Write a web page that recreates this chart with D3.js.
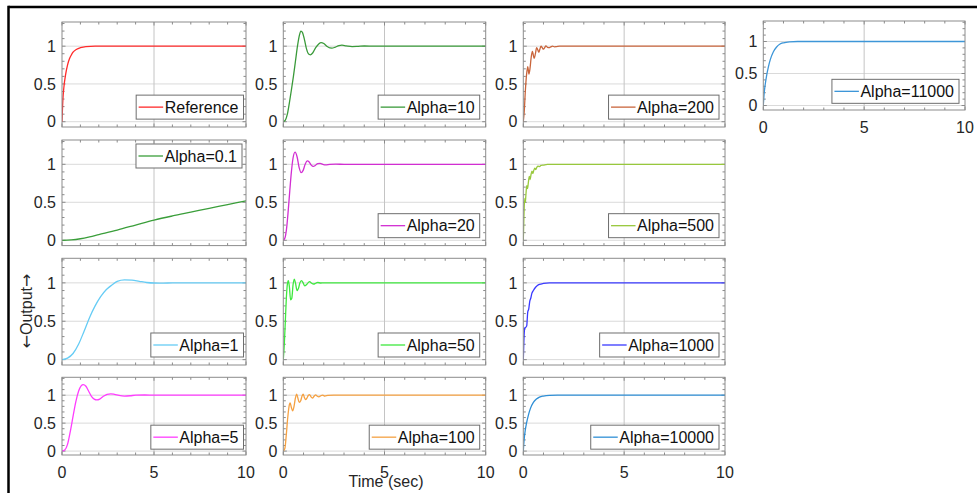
<!DOCTYPE html>
<html>
<head>
<meta charset="utf-8">
<script src="https://cdn.jsdelivr.net/npm/d3@7"></script>
<style>
  html, body { margin: 0; padding: 0; background: #fff; }
  svg { display: block; font-family: "Liberation Sans", Arial, Helvetica, sans-serif; }
</style>
</head>
<body>
<svg id="chart" width="977" height="493"></svg>
<script>
// Step responses [time (sec), output] for each gain setting
const reference = [[0,0],[0.05,0.3],[0.1,0.45],[0.2,0.63],[0.3,0.75],[0.4,0.83],[0.5,0.88],[0.6,0.92],[0.8,0.96],[1.0,0.98],[1.3,0.995],[1.8,1],[10,1]];
const alpha0_1 = [[0,0],[0.5,0.005],[1,0.02],[1.5,0.045],[2,0.075],[3,0.135],[4,0.2],[5,0.265],[6,0.32],[7,0.37],[8,0.42],[9,0.47],[10,0.52]];
const alpha1 = [[0,0],[0.3,0.02],[0.6,0.08],[0.9,0.2],[1.2,0.37],[1.5,0.55],[1.8,0.7],[2.1,0.82],[2.4,0.91],[2.7,0.97],[3.0,1.02],[3.4,1.04],[3.8,1.035],[4.2,1.02],[4.6,1.005],[5.0,0.998],[5.5,0.997],[6,1.0],[10,1]];
const alpha5 = [[0,0],[0.15,0.02],[0.3,0.12],[0.45,0.35],[0.6,0.62],[0.75,0.88],[0.9,1.07],[1.05,1.17],[1.15,1.19],[1.3,1.16],[1.45,1.07],[1.6,0.98],[1.75,0.93],[1.9,0.915],[2.05,0.93],[2.25,0.98],[2.45,1.015],[2.65,1.025],[2.85,1.015],[3.1,0.995],[3.4,0.985],[3.7,0.99],[4.0,1.0],[4.5,1.003],[5,1],[10,1]];
const alpha10 = [[0,0],[0.1,0.02],[0.2,0.1],[0.3,0.25],[0.4,0.42],[0.5,0.6],[0.6,0.8],[0.7,1.0],[0.8,1.15],[0.87,1.2],[0.95,1.18],[1.05,1.08],[1.15,0.96],[1.25,0.895],[1.33,0.886],[1.45,0.91],[1.6,0.98],[1.75,1.03],[1.87,1.047],[2.0,1.035],[2.15,1.0],[2.3,0.977],[2.4,0.975],[2.55,0.985],[2.75,1.008],[2.9,1.013],[3.1,1.005],[3.4,0.995],[3.7,0.998],[4.0,1.002],[4.5,1],[10,1]];
const alpha20 = [[0,0],[0.08,0.03],[0.16,0.15],[0.24,0.38],[0.32,0.65],[0.4,0.9],[0.48,1.08],[0.58,1.16],[0.68,1.1],[0.78,0.96],[0.88,0.89],[0.98,0.92],[1.08,1.0],[1.18,1.045],[1.28,1.03],[1.38,0.99],[1.48,0.972],[1.58,0.985],[1.7,1.01],[1.82,1.012],[1.95,1.0],[2.1,0.993],[2.3,1.0],[2.6,1.002],[3,1],[10,1]];
const alpha50 = [[0,0],[0.05,0.2],[0.1,0.5],[0.15,0.8],[0.2,0.98],[0.25,1.03],[0.3,0.95],[0.36,0.78],[0.42,0.8],[0.48,0.97],[0.54,1.05],[0.6,1.0],[0.68,0.9],[0.75,0.93],[0.82,1.0],[0.9,1.03],[0.98,1.0],[1.06,0.96],[1.14,0.975],[1.22,1.0],[1.3,1.015],[1.4,0.995],[1.5,0.985],[1.6,0.995],[1.7,1.005],[1.85,0.998],[2.0,1.0],[10,1]];
const alpha100 = [[0,0],[0.08,0.05],[0.15,0.3],[0.22,0.6],[0.3,0.83],[0.34,0.86],[0.4,0.78],[0.46,0.72],[0.53,0.8],[0.6,0.95],[0.66,1.02],[0.72,0.95],[0.79,0.87],[0.86,0.9],[0.93,0.99],[0.98,1.02],[1.04,0.96],[1.1,0.92],[1.17,0.95],[1.24,1.0],[1.3,1.01],[1.37,0.97],[1.44,0.95],[1.52,0.98],[1.6,1.005],[1.68,0.98],[1.76,0.97],[1.85,0.99],[1.95,1.0],[2.05,0.985],[2.2,0.995],[2.5,1],[10,1]];
const alpha200 = [[0,0],[0.05,0.15],[0.1,0.4],[0.16,0.62],[0.22,0.73],[0.28,0.63],[0.33,0.7],[0.39,0.85],[0.45,0.93],[0.54,0.84],[0.6,0.9],[0.66,0.98],[0.72,0.95],[0.77,0.92],[0.82,0.96],[0.88,1.0],[0.94,0.98],[1.0,0.96],[1.06,0.98],[1.12,1.005],[1.2,0.985],[1.28,0.98],[1.36,0.99],[1.45,1.0],[1.55,0.992],[1.65,0.995],[1.8,1],[10,1]];
const alpha500 = [[0,0],[0.03,0.3],[0.07,0.55],[0.1,0.5],[0.13,0.6],[0.17,0.72],[0.21,0.68],[0.25,0.76],[0.3,0.84],[0.34,0.8],[0.38,0.86],[0.43,0.91],[0.47,0.88],[0.52,0.92],[0.57,0.95],[0.62,0.93],[0.67,0.96],[0.73,0.975],[0.8,0.97],[0.88,0.985],[1.0,0.99],[1.2,0.998],[1.5,1],[10,1]];
const alpha1000 = [[0,0],[0.03,0.25],[0.07,0.41],[0.12,0.42],[0.17,0.44],[0.22,0.62],[0.27,0.66],[0.32,0.76],[0.37,0.8],[0.42,0.86],[0.5,0.9],[0.6,0.94],[0.7,0.965],[0.8,0.98],[1.0,0.993],[1.3,1.0],[10,1]];
const alpha10000 = [[0,0],[0.04,0.2],[0.1,0.38],[0.16,0.5],[0.25,0.64],[0.35,0.76],[0.5,0.87],[0.65,0.93],[0.8,0.965],[1.0,0.985],[1.3,0.997],[1.7,1],[10,1]];
const alpha11000 = [[0,0],[0.04,0.18],[0.1,0.34],[0.16,0.46],[0.25,0.6],[0.35,0.72],[0.5,0.84],[0.65,0.91],[0.83,0.96],[1.0,0.98],[1.3,0.995],[1.7,1],[10,1]];

// Axis ticks
const xTicks = [0, 5, 10];
const yTicks = [0, 0.5, 1];
const yTickLabels = ["0", "0.5", "1"];

// Subplot grid: column and row extents in px
const cols = [[62, 246], [283.3, 485.7], [523.3, 725], [763.3, 965]];
const rows = [[22, 127], [140, 245.6], [258.3, 365], [377.3, 455]];

const panels = [
  { name: "Reference",   data: reference,  color: "#ff2a2a", col: 0, row: 0 },
  { name: "Alpha=0.1",   data: alpha0_1,   color: "#3a9e3a", col: 0, row: 1, legendTop: true },
  { name: "Alpha=1",     data: alpha1,     color: "#66ccf5", col: 0, row: 2 },
  { name: "Alpha=5",     data: alpha5,     color: "#ff3cff", col: 0, row: 3, xLabels: true },
  { name: "Alpha=10",    data: alpha10,    color: "#3a9a3a", col: 1, row: 0 },
  { name: "Alpha=20",    data: alpha20,    color: "#d22ed2", col: 1, row: 1 },
  { name: "Alpha=50",    data: alpha50,    color: "#3ee83e", col: 1, row: 2 },
  { name: "Alpha=100",   data: alpha100,   color: "#f5a142", col: 1, row: 3, xLabels: true },
  { name: "Alpha=200",   data: alpha200,   color: "#c9653c", col: 2, row: 0 },
  { name: "Alpha=500",   data: alpha500,   color: "#98c83c", col: 2, row: 1 },
  { name: "Alpha=1000",  data: alpha1000,  color: "#3a3aff", col: 2, row: 2 },
  { name: "Alpha=10000", data: alpha10000, color: "#2f8fd6", col: 2, row: 3, xLabels: true },
  { name: "Alpha=11000", data: alpha11000, color: "#3d96d8", col: 3, row: 0, xLabels: true, box: [21, 110] }
];

const svg = d3.select("#chart");
const FONT = 16;

// Figure frame (only top and left edges fall inside the view)
svg.append("line").attr("x1", 8.5).attr("x2", 977).attr("y1", 7).attr("y2", 7)
  .attr("stroke", "#000").attr("stroke-width", 2.5);
svg.append("line").attr("x1", 8.5).attr("x2", 8.5).attr("y1", 5.8).attr("y2", 493)
  .attr("stroke", "#000").attr("stroke-width", 2.5);

panels.forEach((p, i) => {
  const [x0, x1] = cols[p.col];
  const [y0, y1] = p.box || rows[p.row];
  const x = d3.scaleLinear().domain([0, 10]).range([x0, x1]);
  const y = d3.scaleLinear().domain([-0.07, 1.32]).range([y1, y0]);
  const g = svg.append("g");

  g.append("rect").attr("x", x0).attr("y", y0).attr("width", x1 - x0).attr("height", y1 - y0)
    .attr("fill", "#fff");

  // major grid
  g.selectAll(".gy").data(yTicks).join("line")
    .attr("x1", x0).attr("x2", x1).attr("y1", d => y(d)).attr("y2", d => y(d))
    .attr("stroke", "#dadada").attr("stroke-width", 1);
  g.selectAll(".gx").data(xTicks.filter(d => d > 0 && d < 10)).join("line")
    .attr("x1", d => x(d)).attr("x2", d => x(d)).attr("y1", y0).attr("y2", y1)
    .attr("stroke", "#c4c4c4").attr("stroke-width", 1);

  // inward ticks on all four sides
  const xMinor = d3.range(0, 10.01, 1);
  const yMinor = d3.range(0, 1.31, 0.1);
  const tickStroke = "#8a8a8a";
  xMinor.forEach(t => {
    const len = xTicks.includes(t) ? 3.5 : 2.5;
    g.append("line").attr("x1", x(t)).attr("x2", x(t)).attr("y1", y1).attr("y2", y1 - len).attr("stroke", tickStroke);
    g.append("line").attr("x1", x(t)).attr("x2", x(t)).attr("y1", y0).attr("y2", y0 + len).attr("stroke", tickStroke);
  });
  yMinor.forEach(v => {
    const len = yTicks.some(t => Math.abs(t - v) < 1e-6) ? 3.5 : 2.5;
    g.append("line").attr("x1", x0).attr("x2", x0 + len).attr("y1", y(v)).attr("y2", y(v)).attr("stroke", tickStroke);
    g.append("line").attr("x1", x1).attr("x2", x1 - len).attr("y1", y(v)).attr("y2", y(v)).attr("stroke", tickStroke);
  });

  // response curve
  const clipId = "clip" + i;
  svg.append("clipPath").attr("id", clipId).append("rect")
    .attr("x", x0).attr("y", y0).attr("width", x1 - x0).attr("height", y1 - y0);
  const line = d3.line().x(d => x(d[0])).y(d => y(d[1])).curve(d3.curveMonotoneX);
  g.append("path").datum(p.data).attr("d", line)
    .attr("fill", "none").attr("stroke", p.color).attr("stroke-width", 1.3)
    .attr("clip-path", `url(#${clipId})`);

  // axes box
  g.append("rect").attr("x", x0).attr("y", y0).attr("width", x1 - x0).attr("height", y1 - y0)
    .attr("fill", "none").attr("stroke", "#8c8c8c").attr("stroke-width", 1);

  // y tick labels
  g.selectAll(".yl").data(yTicks).join("text")
    .attr("x", x0 - 6).attr("y", d => y(d)).attr("dy", "0.36em")
    .attr("text-anchor", "end").attr("font-size", FONT).attr("fill", "#262626")
    .text((d, k) => yTickLabels[k]);

  // x tick labels
  if (p.xLabels) {
    g.selectAll(".xl").data(xTicks).join("text")
      .attr("x", d => x(d)).attr("y", y1 + 23.3)
      .attr("text-anchor", "middle").attr("font-size", FONT).attr("fill", "#262626")
      .text(d => d);
  }

  // legend
  const lg = g.append("g");
  const txt = lg.append("text").attr("font-size", FONT).attr("fill", "#111").text(p.name);
  const tw = txt.node().getComputedTextLength();
  const bw = 28.5 + tw + 5, bh = 24;
  const rightGap = p.col === 0 ? 2.5 : 6;
  let bx = x1 - rightGap - bw;
  let by;
  if (p.legendTop) {
    bx = x1 - 4 - bw;
    by = y0 + 4;
  } else {
    by = y1 - 0.075 * (y1 - y0) - bh;
  }
  lg.insert("rect", "text").attr("x", bx).attr("y", by).attr("width", bw).attr("height", bh)
    .attr("fill", "#fff").attr("stroke", "#6e6e6e").attr("stroke-width", 1);
  lg.insert("line", "text").attr("x1", bx + 2.5).attr("x2", bx + 27).attr("y1", by + bh / 2).attr("y2", by + bh / 2)
    .attr("stroke", p.color).attr("stroke-width", 1.3);
  txt.attr("x", bx + 28.5).attr("y", by + bh / 2).attr("dy", "0.36em");
});

// axis titles
svg.append("text").attr("x", 386).attr("y", 487).attr("text-anchor", "middle")
  .attr("font-size", FONT).attr("fill", "#262626").text("Time (sec)");
const yTitle = svg.append("text").attr("transform", "translate(26,311) rotate(-90)")
  .attr("text-anchor", "middle").attr("dy", "0.36em")
  .attr("font-size", FONT).attr("fill", "#262626");
yTitle.append("tspan").attr("font-family", "DejaVu Sans").text("\u2190");
yTitle.append("tspan").text("Output");
yTitle.append("tspan").attr("font-family", "DejaVu Sans").text("\u2192");
</script>
</body>
</html>
